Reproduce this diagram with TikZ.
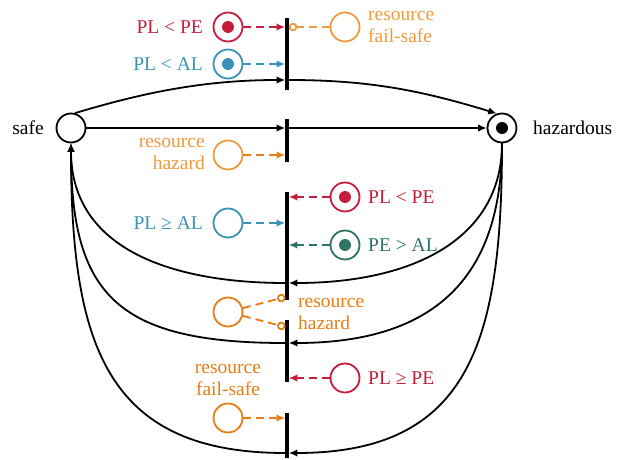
\documentclass[tikz,border=0pt]{standalone}
\usepackage{fontspec}
\setmainfont{Liberation Serif}
\usetikzlibrary{arrows.meta}
\definecolor{cred}{HTML}{C41E3A}
\definecolor{cblue}{HTML}{3A93B7}
\definecolor{cteal}{HTML}{2E7366}
\definecolor{corangeL}{HTML}{F09A3E}
\definecolor{corange}{HTML}{E87D14}
\begin{document}
\begin{tikzpicture}[x=1pt,y=-1pt,
 every node/.style={font=\fontsize{19.5}{22}\selectfont},
 place/.style={circle,draw=#1,line width=1.8pt,minimum size=29pt,inner sep=0pt,fill=white},
 place/.default=black,
 marked/.style={path picture={\fill[#1] (path picture bounding box.center) circle (6pt);}},
 pntrans/.style={rectangle,fill=black,minimum width=3.2pt,inner sep=0pt,minimum height=#1},
 pnarc/.style={line width=1.8pt,-{Latex[length=8.5pt,width=7.5pt]}},
 readarc/.style={draw=#1,line width=1.8pt,dash pattern=on 8pt off 5pt,-{Latex[length=8.5pt,width=7.5pt]}},
 inhib/.style={draw=#1,line width=1.8pt,dash pattern=on 8pt off 5pt,-{Circle[fill=white,length=8.5pt,width=8.5pt]}},
 lbl/.style={text=#1,inner sep=2pt},
]
\useasboundingbox (0,0) rectangle (625,460);

% main places
\node[place] (safe) at (71,128) {};
\node[place,marked=black] (haz) at (502,128) {};
\node[anchor=east,inner sep=0pt] (safelbl) at (44,128) {safe};
\node[anchor=west,inner sep=0pt] (hazlbl) at (533,128) {hazardous};

% transitions
\node[pntrans=72pt] (t1) at (287,54) {};
\node[pntrans=43pt] (t2) at (287,140.5) {};
\node[pntrans=108pt] (t3) at (287,246) {};
\node[pntrans=62pt] (t4) at (287,351) {};
\node[pntrans=45pt] (t5) at (287,435.5) {};

% condition places
\node[place=cred,marked=cred] (p1) at (228,27) {};
\node[place=corangeL] (p2) at (345,27) {};
\node[place=cblue,marked=cblue] (p3) at (228,64) {};
\node[place=corangeL] (p4) at (228,155) {};
\node[place=cred,marked=cred] (p5) at (345,197) {};
\node[place=cblue] (p6) at (228,223) {};
\node[place=cteal,marked=cteal] (p7) at (345,245) {};
\node[place=corange] (p8) at (228,312) {};
\node[place=cred] (p9) at (345,378) {};
\node[place=corange] (p10) at (228,418) {};

% labels
\node[lbl=cred,anchor=east] (l1) at (205,27) {PL < PE};
\node[lbl=corangeL,anchor=west,align=left] (l2) at (366,27) {resource\\fail-safe};
\node[lbl=cblue,anchor=east] (l3) at (205,64) {PL < AL};
\node[lbl=corangeL,anchor=east,align=right] (l4) at (207,154) {resource\\hazard};
\node[lbl=cred,anchor=west] (l5) at (366,197) {PL < PE};
\node[lbl=cblue,anchor=east] (l6) at (205,223) {PL ≥ AL};
\node[lbl=cteal,anchor=west] (l7) at (366,245) {PE > AL};
\node[lbl=corange,anchor=west,align=left] (l8) at (296,314) {resource\\hazard};
\node[lbl=cred,anchor=west] (l9) at (366,378) {PL ≥ PE};
\node[lbl=corange,align=center] (l10) at (228,380) {resource\\fail-safe};

% read arcs
\draw[readarc=cred] (p1) -- (t1.west |- p1);
\draw[readarc=cblue] (p3) -- (t1.west |- p3);
\draw[readarc=corange] (p4) -- (t2.west |- p4);
\draw[readarc=cred] (p5) -- (t3.east |- p5);
\draw[readarc=cblue] (p6) -- (t3.west |- p6);
\draw[readarc=cteal] (p7) -- (t3.east |- p7);
\draw[readarc=cred] (p9) -- (t4.east |- p9);
\draw[readarc=corange] (p10) -- (t5.west |- p10);

% inhibitor arcs
\coordinate (h3) at (285.4,297);
\coordinate (h4) at (285.4,327);
\draw[inhib=corangeL] (p2) -- (t1.east |- p2);
\draw[inhib=corange] (p8) -- (h3);
\draw[inhib=corange] (p8) -- (h4);

% flow arcs
\draw[pnarc] (safe.75) .. controls +(70,-21) and +(-80,0) .. ([yshift=-26pt]t1.west);
\draw[pnarc] ([yshift=-26pt]t1.east) .. controls +(80,0) and +(-75,-23) .. (haz.110);
\draw[pnarc] (safe) -- (t2.west |- safe);
\draw[pnarc] (t2.east |- safe) -- (haz);

\draw[pnarc] (haz.south) .. controls +(0,95) and +(125,0) .. ([yshift=-37pt]t3.east);
\draw[pnarc] (haz.south) .. controls +(0,130) and +(150,0) .. ([yshift=8pt]t4.east);
\draw[pnarc] (haz.south) .. controls +(0,200) and +(180,0) .. ([yshift=-17.5pt]t5.east);

\draw[pnarc] ([yshift=-37pt]t3.west) .. controls +(-105,0) and +(0,110) .. (safe.south);
\draw[pnarc] ([yshift=8pt]t4.west) .. controls +(-170,0) and +(0,150) .. (safe.south);
\draw[pnarc] ([yshift=-17.5pt]t5.west) .. controls +(-180,0) and +(0,200) .. (safe.south);
\end{tikzpicture}
\end{document}
